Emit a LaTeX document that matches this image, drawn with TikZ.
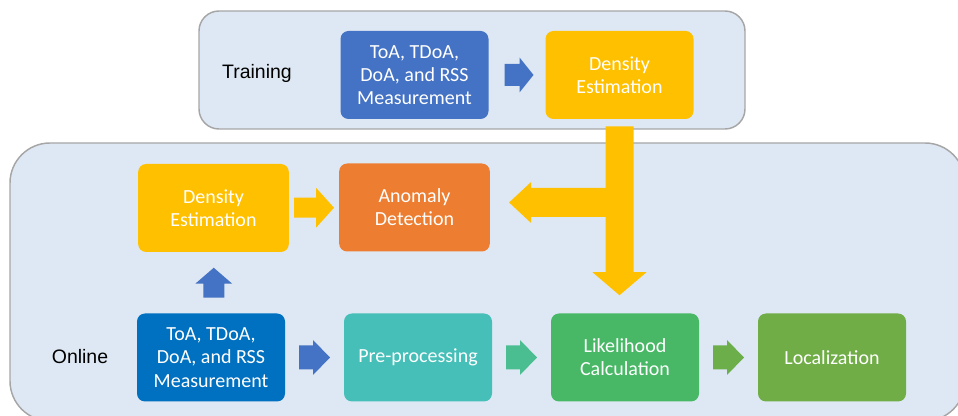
\documentclass[tikz,border=0pt]{standalone}
\usepackage{fontspec}
\setmainfont{Carlito}
\newfontfamily\phasefont{Liberation Sans}
\usetikzlibrary{calc}

\definecolor{panelfill}{HTML}{DEE8F4}
\definecolor{panelline}{HTML}{A6A6A6}
\definecolor{measblue}{HTML}{4472C4}
\definecolor{measdeep}{HTML}{0070C0}
\definecolor{densyellow}{HTML}{FFC000}
\definecolor{anomorange}{HTML}{ED7D31}
\definecolor{prepteal}{HTML}{46BFB9}
\definecolor{likgreen}{HTML}{48B866}
\definecolor{locgreen}{HTML}{70AD47}
\definecolor{arrowteal}{HTML}{4BBE91}
\definecolor{arrowgreen}{HTML}{6CAF4A}

\tikzset{
  panel/.style={fill=panelfill, draw=panelline, line width=1.1pt},
  stage/.style={rounded corners=6pt, text=white, align=center, inner sep=0pt,
    minimum width=111pt, minimum height=66pt,
    font=\fontsize{15}{17.4}\selectfont},
  phase/.style={font=\phasefont\fontsize{14.6}{16}\selectfont, inner sep=0pt},
  % block arrow pointing along +x: half length, body half width, head half width, head length, colour
  pics/blockarrow/.style n args={5}{code={
    \fill[#5] (-#1,-#2) -- (#1-#4,-#2) -- (#1-#4,-#3) -- (#1,0)
      -- (#1-#4,#3) -- (#1-#4,#2) -- (-#1,#2) -- cycle;
  }},
}

\begin{document}
\begin{tikzpicture}[x=0.75pt, y=-0.75pt]
  \useasboundingbox (0,0) rectangle (958,416);
  \clip (0,0) rectangle (958,416);

  % the two phases
  \draw[panel, rounded corners=30pt] (10,143) rectangle (965,421);
  \draw[panel, rounded corners=15pt] (199,11) rectangle (745,129);

  \node[phase] (training) at (257,73) {Training};
  \node[phase] (online) at (80,357) {Online};

  % training stages
  \node[stage, fill=measblue] (tmeas) at (414.5,75) {ToA, TDoA,\\DoA, and RSS\\Measurement};
  \node[stage, fill=densyellow] (tdens) at (619.5,75) {Density\\Estimation};

  % online stages
  \node[stage, fill=densyellow, minimum width=113pt] (odens) at (213.5,208) {Density\\Estimation};
  \node[stage, fill=anomorange, minimum width=113pt] (anom) at (414.5,207.5) {Anomaly\\Detection};
  \node[stage, fill=measdeep] (omeas) at (211,357.5) {ToA, TDoA,\\DoA, and RSS\\Measurement};
  \node[stage, fill=prepteal] (prep) at (418,357.5) {Pre-processing};
  \node[stage, fill=likgreen] (lik) at (625,357.5) {Likelihood\\Calculation};
  \node[stage, fill=locgreen] (loc) at (832,357.5) {Localization};

  % block arrows between stages
  \pic at ($(tmeas.east)!0.5!(tdens.west)+(2,0)$) {blockarrow={14.5}{11}{17.5}{14}{measblue}};
  \pic at ($(odens.east)!0.5!(anom.west)$) {blockarrow={20}{10}{20}{18}{densyellow}};
  \pic[rotate=90] at ($(omeas.north)!0.5!(odens.south)+(1.5,0)$) {blockarrow={15}{10.5}{18.5}{16}{measblue}};
  \pic at ($(omeas.east)!0.5!(prep.west)$) {blockarrow={15.5}{12}{17.5}{17}{measblue}};
  \pic at ($(prep.east)!0.5!(lik.west)$) {blockarrow={15.5}{12}{17.5}{17}{arrowteal}};
  \pic at ($(lik.east)!0.5!(loc.west)$) {blockarrow={15.5}{12}{17.5}{17}{arrowgreen}};

  % trained density feeds anomaly detection and likelihood calculation
  \coordinate (tsrc) at ($(tdens.south)+(0,7)$);
  \coordinate (drop) at ($(lik.north)+(0,-18)$);
  \coordinate (ttip) at (tdens.south |- drop);
  \coordinate (ltip) at ($(anom.east)+(19,-5)$);
  \coordinate (tjoin) at (ttip |- ltip);
  \fill[densyellow]
    ($(tsrc)+(-14,0)$) -- ($(tsrc)+(14,0)$) -- ($(ttip)+(14,-23)$)
    -- ($(ttip)+(27,-23)$) -- (ttip) -- ($(ttip)+(-27,-23)$)
    -- ($(ttip)+(-14,-23)$) -- ($(tjoin)+(-14,14.5)$)
    -- ($(ltip)+(22,14.5)$) -- ($(ltip)+(22,20.5)$) -- (ltip)
    -- ($(ltip)+(22,-20.5)$) -- ($(ltip)+(22,-14.5)$)
    -- ($(tjoin)+(-14,-14.5)$) -- cycle;
\end{tikzpicture}
\end{document}
